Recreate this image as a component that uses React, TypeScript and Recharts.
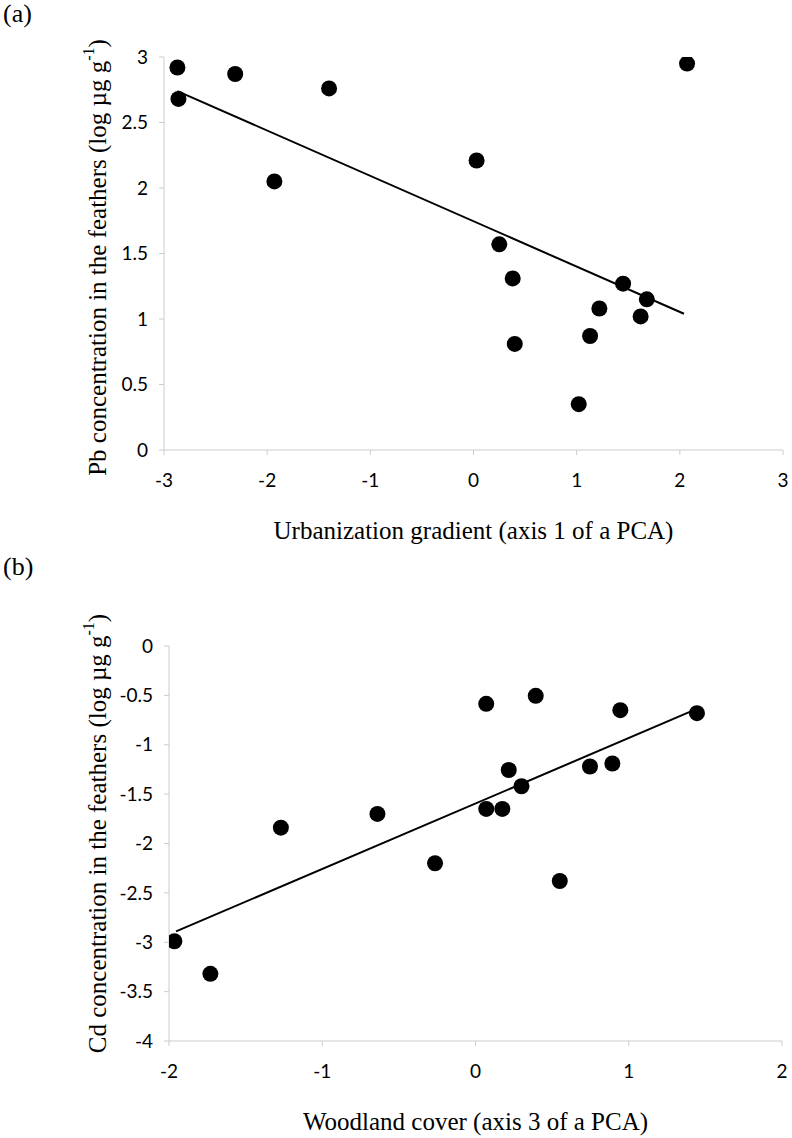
import React from 'react';
import { ScatterChart, Scatter, XAxis, YAxis, Label } from 'recharts';

// Panel (a): Pb vs urbanization gradient
const pbUrbanX = [-2.87, -2.86, -2.31, -1.93, -1.4, 0.03, 0.25, 0.38, 0.4, 1.02, 1.13, 1.22, 1.45, 1.62, 1.68, 2.07];
const pbLogY = [2.92, 2.68, 2.87, 2.05, 2.76, 2.21, 1.57, 1.31, 0.81, 0.35, 0.87, 1.08, 1.27, 1.02, 1.15, 2.95];
const pbTrendX = [-2.87, 2.04];
const pbTrendY = [2.74, 1.04];
const urbanTicks = [-3, -2, -1, 0, 1, 2, 3];
const pbTicks = [0, 0.5, 1, 1.5, 2, 2.5, 3];

// Panel (b): Cd vs woodland cover
const woodX = [-1.965, -1.73, -1.27, -0.64, -0.264, 0.07, 0.07, 0.175, 0.217, 0.3, 0.393, 0.55, 0.747, 0.893, 0.945, 1.445];
const cdLogY = [-2.99, -3.32, -1.84, -1.7, -2.2, -0.586, -1.65, -1.65, -1.256, -1.42, -0.505, -2.38, -1.22, -1.19, -0.65, -0.68];
const cdTrendX = [-1.954, 1.44];
const cdTrendY = [-2.89, -0.64];
const woodTicks = [-2, -1, 0, 1, 2];
const cdTicks = [-4, -3.5, -3, -2.5, -2, -1.5, -1, -0.5, 0];

const zip = (xs: number[], ys: number[]) => xs.map((x, i) => ({ x, y: ys[i] }));

const pbData = zip(pbUrbanX, pbLogY);
const pbTrend = zip(pbTrendX, pbTrendY);
const cdData = zip(woodX, cdLogY);
const cdTrend = zip(cdTrendX, cdTrendY);

const AXIS_COLOR = '#cccccc';
const tickStyle = { fontFamily: 'Lato, "Open Sans", sans-serif', fontSize: 19, fill: '#000' };
const serif = '"Liberation Serif", "Times New Roman", serif';

const Dot = (props: any) => <circle cx={props.cx} cy={props.cy} r={8} fill="#000" />;
const NoDot = () => <g />;

const makeYTitle = (metal: string, dy: number) => (props: any) => {
  const vb = props.viewBox || { x: 0, y: 0, width: 0, height: 0 };
  const cx = 97;
  const cy = vb.y + vb.height / 2 + dy;
  return (
    <text
      x={cx}
      y={cy}
      transform={`rotate(-90, ${cx}, ${cy})`}
      textAnchor="middle"
      dominantBaseline="central"
      fontFamily={serif}
      fontSize={25}
      fill="#000"
    >
      {metal} concentration in the feathers (log µg g
      <tspan dy={-9} fontSize={16}>-1</tspan>
      <tspan dy={9}>)</tspan>
    </text>
  );
};

const makeXTitle = (text: string, dy: number) => (props: any) => {
  const vb = props.viewBox || { x: 0, y: 0, width: 0, height: 0 };
  const cx = vb.x + vb.width / 2;
  const cy = vb.y + dy;
  return (
    <text x={cx} y={cy} textAnchor="middle" dominantBaseline="central" fontFamily={serif} fontSize={25} fill="#000">
      {text}
    </text>
  );
};

const PanelLetter = ({ letter, top }: { letter: string; top: number }) => (
  <div
    style={{
      position: 'absolute',
      left: 3,
      top,
      fontFamily: serif,
      fontSize: 26,
      lineHeight: '26px',
      color: '#000',
    }}
  >
    {letter}
  </div>
);

export default function App() {
  return (
    <div style={{ position: 'absolute', left: 0, top: 0, width: 792, height: 1138, background: '#fff' }}>
      <PanelLetter letter="(a)" top={1} />
      <PanelLetter letter="(b)" top={554} />
      <div style={{ position: 'absolute', left: 0, top: 0 }}>
        <ScatterChart width={792} height={560} margin={{ top: 57, right: 9, bottom: 80, left: 104 }}>
          <XAxis
            type="number"
            dataKey="x"
            domain={[-3, 3]}
            ticks={urbanTicks}
            interval={0}
            allowDataOverflow
            height={30}
            stroke={AXIS_COLOR}
            tickLine={{ stroke: AXIS_COLOR }}
            tickSize={5}
            tickMargin={19}
            tick={tickStyle}
          >
            <Label content={makeXTitle('Urbanization gradient (axis 1 of a PCA)', 80)} />
          </XAxis>
          <YAxis
            type="number"
            dataKey="y"
            domain={[0, 3]}
            ticks={pbTicks}
            interval={0}
            allowDataOverflow
            width={60}
            stroke={AXIS_COLOR}
            tickLine={{ stroke: AXIS_COLOR }}
            tickSize={5}
            tickMargin={11}
            tick={tickStyle}
          >
            <Label content={makeYTitle('Pb', 4)} />
          </YAxis>
          <Scatter
            data={pbTrend}
            line={{ stroke: '#000', strokeWidth: 2 }}
            shape={NoDot}
            isAnimationActive={false}
          />
          <Scatter data={pbData} shape={Dot} isAnimationActive={false} />
        </ScatterChart>
      </div>
      <div style={{ position: 'absolute', left: 0, top: 560 }}>
        <ScatterChart width={792} height={578} margin={{ top: 86, right: 10, bottom: 67, left: 109 }}>
          <XAxis
            type="number"
            dataKey="x"
            domain={[-2, 2]}
            ticks={woodTicks}
            interval={0}
            allowDataOverflow
            height={30}
            stroke={AXIS_COLOR}
            tickLine={{ stroke: AXIS_COLOR }}
            tickSize={5}
            tickMargin={19}
            tick={tickStyle}
          >
            <Label content={makeXTitle('Woodland cover (axis 3 of a PCA)', 80)} />
          </XAxis>
          <YAxis
            type="number"
            dataKey="y"
            domain={[-4, 0]}
            ticks={cdTicks}
            interval={0}
            allowDataOverflow
            width={60}
            stroke={AXIS_COLOR}
            tickLine={{ stroke: AXIS_COLOR }}
            tickSize={5}
            tickMargin={11}
            tick={tickStyle}
          >
            <Label content={makeYTitle('Cd', -10)} />
          </YAxis>
          <Scatter
            data={cdTrend}
            line={{ stroke: '#000', strokeWidth: 2 }}
            shape={NoDot}
            isAnimationActive={false}
          />
          <Scatter data={cdData} shape={Dot} isAnimationActive={false} />
        </ScatterChart>
      </div>
    </div>
  );
}
